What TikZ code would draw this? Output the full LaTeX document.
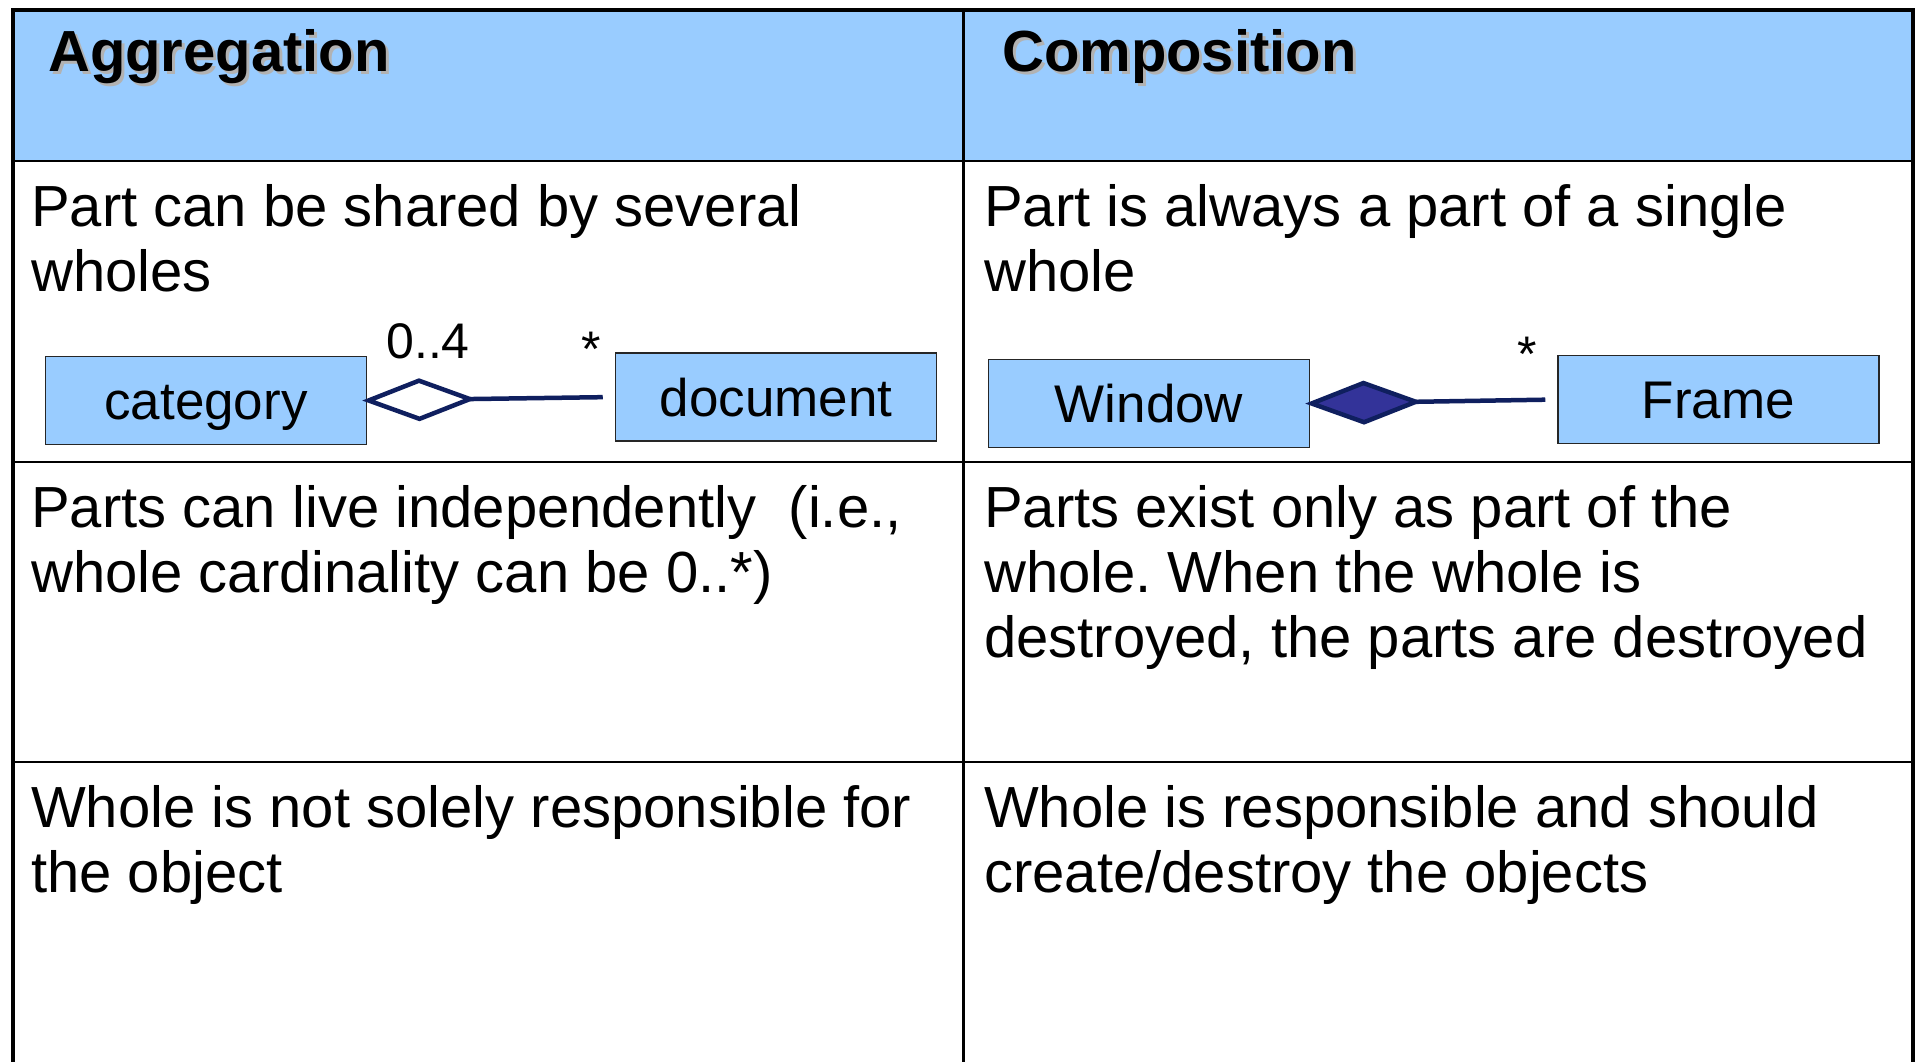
\documentclass[tikz,border=0pt]{standalone}
\usepackage{fontspec}
\setmainfont{Liberation Sans}
\usetikzlibrary{arrows.meta}
\definecolor{hdblue}{HTML}{99CCFF}
\definecolor{navy}{HTML}{0F1F5F}
\definecolor{compfill}{HTML}{333399}
\frenchspacing

\begin{document}
\begin{tikzpicture}[x=1pt,y=-1pt,
    cls/.style={draw=black!85,fill=hdblue,line width=1.5pt,minimum width=321pt,minimum height=88pt,inner sep=0pt,text height=40pt,text depth=2pt,font=\fontsize{53}{60}\selectfont},
    txt/.style={anchor=base west,align=left,inner sep=0pt,font=\fontsize{58}{65}\selectfont},
    hd/.style={anchor=base west,inner sep=0pt,font=\fontsize{58}{65}\selectfont\bfseries},
    mult/.style={anchor=base,inner sep=0pt,font=\fontsize{50}{60}\selectfont},
    assoc/.style={navy,line width=4.5pt,shorten >=12pt,shorten <=-5pt}]
    \useasboundingbox (0,0) rectangle (1922,1062);
    \fill[white] (0,0) rectangle (1922,1062);
    \fill[hdblue] (13,10) rectangle (1913,161);
    % table rules
    \draw[line width=2.5pt] (13,161) -- (1913,161);
    \draw[line width=2.5pt] (13,462) -- (1913,462);
    \draw[line width=2pt] (13,762) -- (1913,762);
    \draw[line width=3pt] (963,10) -- (963,1062);
    \draw[line width=4pt] (13,1062) -- (13,10) -- (1913,10) -- (1913,1062);
    % headers
    \node[hd,text=black!30] at (51,75) {Aggregation};
    \node[hd] (aggr) at (48,72) {Aggregation};
    \node[hd,text=black!30] at (1005,75) {Composition};
    \node[hd] (comp) at (1002,72) {Composition};
    % cells (anchored at the last line)
    \node[txt] (agg1) at (31,291) {Part can be shared by several\\wholes};
    \node[txt] (comp1) at (984,291) {Part is always a part of a single\\whole};
    \node[txt] (agg2) at (31,592) {Parts can live independently\ \ (i.e.,\\whole cardinality can be 0..*)};
    \node[txt] (comp2) at (984,657) {Parts exist only as part of the\\whole. When the whole is\\destroyed, the parts are destroyed};
    \node[txt] (agg3) at (31,892) {Whole is not solely responsible for\\the object};
    \node[txt] (comp3) at (984,892) {Whole is responsible and should\\create/destroy the objects};
    % aggregation example
    \node[cls] (cat) at (206,400.5) {category};
    \node[cls] (doc) at (776,397) {document};
    \draw[assoc,{Diamond[open,length=114pt,width=43pt]}-] (cat.east) -- (doc.west);
    \node[mult] (catmult) at (428,358) {0..4};
    \node[mult] (docmult) at (591,366) {*};
    % composition example
    \node[cls] (win) at (1149,403.5) {Window};
    \node[cls] (frm) at (1718.5,399.5) {Frame};
    \draw[assoc,{Diamond[length=117pt,width=44pt,fill=compfill]}-] (win.east) -- (frm.west);
    \node[mult] (frmmult) at (1527,371) {*};
\end{tikzpicture}
\end{document}
